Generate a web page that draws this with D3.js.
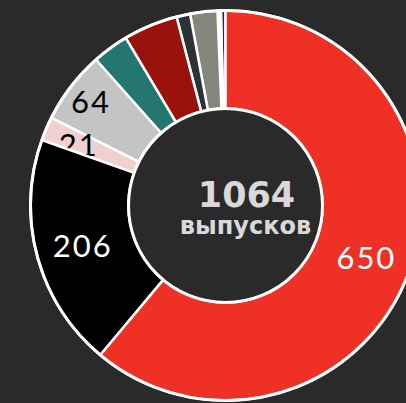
<!DOCTYPE html>
<html>
<head>
<meta charset="utf-8">
<script src="https://cdn.jsdelivr.net/npm/d3@7"></script>
<style>
  html, body { margin: 0; padding: 0; background: #2a2a2a; }
  svg { display: block; }
</style>
</head>
<body>
<script>
(function (d3) {
  "use strict";

  /***** Données *****/
  var categories = ["red", "black", "pink", "lightgray", "teal", "darkred", "slate", "gray", "blank", "purple"];
  var values = [650, 206, 21, 64, 32, 48, 12, 24, 3, 4];
  var colors = ["#ee3124", "#000000", "#f0cfcf", "#c4c4c4", "#247770", "#99130c", "#2b3335", "#86877c", "#ffffff", "#3a1b68"];
  var labelColors = ["#ffffff", "#ffffff", "#000000", "#000000"];
  var totalLabel = "1064";
  var unitLabel = "выпусков";

  /***** Configuration *****/
  var width = 406, height = 403;
  var cx = 225.5, cy = 205.5;
  var outerRadius = 195, innerRadius = 97;
  // small nudges so the crowded labels sit like the original
  var labelNudge = { red: [-2, 0.5], black: [4, 0.5], pink: [-7, -0.5], lightgray: [-14, -11.5] };

  var svg = d3.select("body").append("svg")
      .attr("width", width)
      .attr("height", height);

  svg.append("rect").attr("width", width).attr("height", height).attr("fill", "#2a2a2a");

  var g = svg.append("g").attr("transform", "translate(" + cx + "," + cy + ")");

  var data = categories.map(function (c, i) { return { name: c, value: values[i], index: i }; });

  var pie = d3.pie().sort(null).value(function (d) { return d.value; });
  var arc = d3.arc().innerRadius(innerRadius).outerRadius(outerRadius);
  var labelArc = d3.arc().innerRadius(152).outerRadius(152);

  var arcs = pie(data).slice().reverse();

  // each slice drawn with its label, last slice first
  var slice = g.selectAll(".slice")
      .data(arcs)
      .enter().append("g")
      .attr("class", "slice");

  slice.append("path")
      .attr("d", arc)
      .attr("fill", function (d) { return colors[d.data.index]; })
      .attr("stroke", "#ffffff")
      .attr("stroke-width", 2.5)
      .attr("stroke-linejoin", "round");

  slice.filter(function (d) { return d.data.index < labelColors.length; })
      .append("text")
      .attr("transform", function (d) {
        var c = labelArc.centroid(d);
        var n = labelNudge[d.data.name] || [0, 0];
        return "translate(" + (c[0] + n[0]) + "," + (c[1] + n[1]) + ")";
      })
      .attr("text-anchor", "middle")
      .attr("dy", "0.36em")
      .attr("fill", function (d) { return labelColors[d.data.index]; })
      .style("font-family", "Lato, 'Open Sans', sans-serif")
      .style("font-size", "31px")
      .style("letter-spacing", "2px")
      .text(function (d) { return d.data.value; });

  // outer white rim
  g.append("circle")
      .attr("r", outerRadius)
      .attr("fill", "none")
      .attr("stroke", "#ffffff")
      .attr("stroke-width", 3);

  // centre
  g.append("circle")
      .attr("r", innerRadius)
      .attr("fill", "#2a2a2a")
      .attr("stroke", "#ffffff")
      .attr("stroke-width", 3);

  g.append("text")
      .attr("x", 21)
      .attr("y", 1.5)
      .attr("text-anchor", "middle")
      .attr("fill", "#d9d9d9")
      .style("font-family", "'DejaVu Sans', Verdana, sans-serif")
      .style("font-weight", "bold")
      .style("font-size", "35px")
      .text(totalLabel);

  g.append("text")
      .attr("x", 20)
      .attr("y", 28.5)
      .attr("text-anchor", "middle")
      .attr("fill", "#d9d9d9")
      .style("font-family", "'DejaVu Sans', Verdana, sans-serif")
      .style("font-weight", "bold")
      .style("font-size", "24px")
      .text(unitLabel);

})(d3);
</script>
</body>
</html>
